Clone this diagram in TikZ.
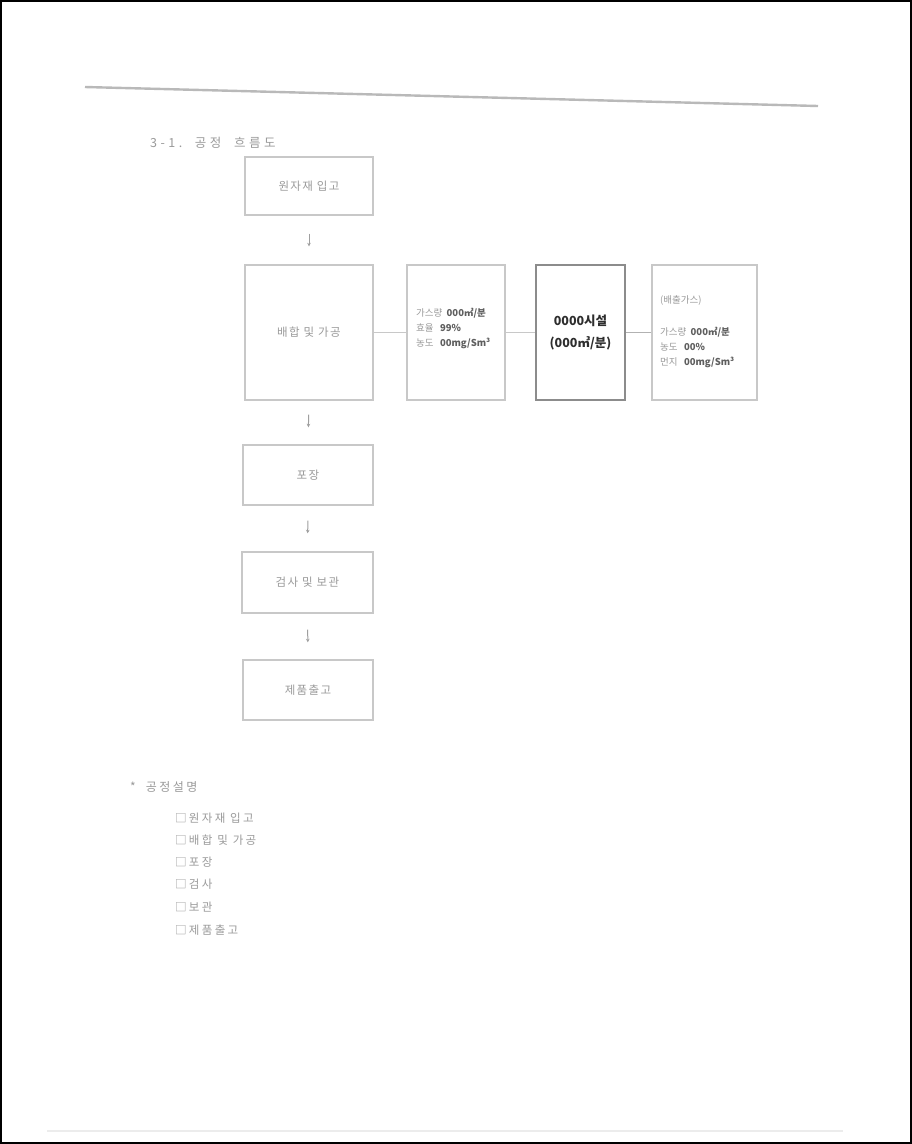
\documentclass[tikz,border=0pt]{standalone}
\usepackage{fontspec}
\setmainfont{Noto Sans CJK KR}
\usetikzlibrary{arrows.meta}
\definecolor{boxline}{HTML}{C8C8C8}
\definecolor{facline}{HTML}{8C8C8C}
\definecolor{lighttext}{HTML}{9A9A9A}
\definecolor{midtext}{HTML}{5E5E5E}
\definecolor{darktext}{HTML}{2E2E2E}
\newfontfamily\widefont[LetterSpace=12]{Noto Sans CJK KR}
\newfontfamily\listfont[LetterSpace=20]{Noto Sans CJK KR}
\newfontfamily\widerfont[LetterSpace=28]{Noto Sans CJK KR}
\tikzset{
  stepbox/.style={draw=boxline, line width=1.4pt, inner sep=0pt},
  facbox/.style={draw=facline, line width=1.8pt, inner sep=0pt},
  lbl/.style={text=lighttext, font=\widefont\fontsize{11.5}{14}\selectfont, inner sep=0pt},
  info/.style={text=lighttext, font=\fontsize{9.5}{15}\selectfont, align=left, inner sep=0pt},
  flowarrow/.style={draw=gray!75, line width=1pt, -{Stealth[length=3.5pt,width=3.5pt]}},
  link/.style={draw=boxline, line width=1.3pt},
  listtext/.style={text=lighttext, font=\listfont\fontsize{11.5}{13}\selectfont, anchor=west, inner sep=0pt},
}
\begin{document}
\begin{tikzpicture}[x=1pt,y=-1pt]
\useasboundingbox (0,0) rectangle (912,1144);
\fill[white] (0,0) rectangle (912,1144);
% page frame
\draw[black, line width=2pt] (1,1) rectangle (911,1143);
% header rule and footer rule
\draw[gray!55, line width=2.4pt] (85,87) -- (818,106);
\draw[gray!15, line width=2pt] (47,1131) -- (843,1131);
% title
\node[text=lighttext, font=\widerfont\fontsize{12.5}{14}\selectfont, anchor=west, inner sep=0pt] (title) at (150,143) {3-1.\ \ 공정\ \ 흐름도};
% main flow boxes
\node[stepbox, minimum width=128pt, minimum height=58pt] (b1) at (309,186) {};
\node[stepbox, minimum width=128pt, minimum height=135pt] (b2) at (309,332.5) {};
\node[stepbox, minimum width=98pt, minimum height=135pt] (inf) at (456,332.5) {};
\node[facbox, minimum width=89pt, minimum height=135pt] (fac) at (580.5,332.5) {};
\node[stepbox, minimum width=105pt, minimum height=135pt] (out) at (704.5,332.5) {};
\node[stepbox, minimum width=130pt, minimum height=60pt] (b3) at (308,475) {};
\node[stepbox, minimum width=131pt, minimum height=61pt] (b4) at (307.5,582.5) {};
\node[stepbox, minimum width=130pt, minimum height=60pt] (b5) at (308,690) {};
% labels
\node[lbl] (t1) at (b1.center) {원자재\ 입고};
\node[lbl] (t2) at (b2.center) {배합\ 및\ 가공};
\node[lbl] (t3) at (b3.center) {포장};
\node[lbl] (t4) at (b4.center) {검사\ 및\ 보관};
\node[lbl] (t5) at (b5.center) {제품출고};
\node[info, anchor=west] (tinf) at (416,328) {가스량\ \ \textcolor{midtext}{\textbf{000㎥/분}}\\효율\ \ \ \textcolor{midtext}{\textbf{99\%}}\\농도\ \ \ \textcolor{midtext}{\textbf{00mg/Sm³}}};
\node[text=darktext, font=\bfseries\fontsize{12.5}{22}\selectfont, align=center, inner sep=0pt] (tfac) at (fac.center) {0000시설\\(000㎥/분)};
\node[info, anchor=west] (tout1) at (660,300) {(배출가스)};
\node[info, anchor=west] (tout2) at (660,347) {가스량\ \ \textcolor{midtext}{\textbf{000㎥/분}}\\농도\ \ \ \textcolor{midtext}{\textbf{00\%}}\\먼지\ \ \ \textcolor{midtext}{\textbf{00mg/Sm³}}};
% connectors
\draw[link] (b2.east) -- (inf.west);
\draw[link] (inf.east) -- (fac.west);
\draw[link, draw=gray!60] (fac.east) -- (out.west);
\draw[flowarrow, shorten <=18pt, shorten >=18pt] (b1.south) -- (b2.north);
\draw[flowarrow, shorten <=14pt, shorten >=17pt] (b2.south) -- (b3.north);
\draw[flowarrow, shorten <=15pt, shorten >=18pt] (b3.south) -- (b4.north);
\draw[flowarrow, shorten <=16pt, shorten >=17pt] (b4.south) -- (b5.north);
% process description
\node[listtext, font=\listfont\fontsize{12}{13}\selectfont] (lh) at (130,787) {*\ \ 공정설명};
\node[listtext] (l1) at (175,818) {□원자재\ 입고};
\node[listtext] (l2) at (175,840) {□배합\ 및\ 가공};
\node[listtext] (l3) at (175,862) {□포장};
\node[listtext] (l4) at (175,884) {□검사};
\node[listtext] (l5) at (175,907) {□보관};
\node[listtext] (l6) at (175,930) {□제품출고};
\end{tikzpicture}
\end{document}
